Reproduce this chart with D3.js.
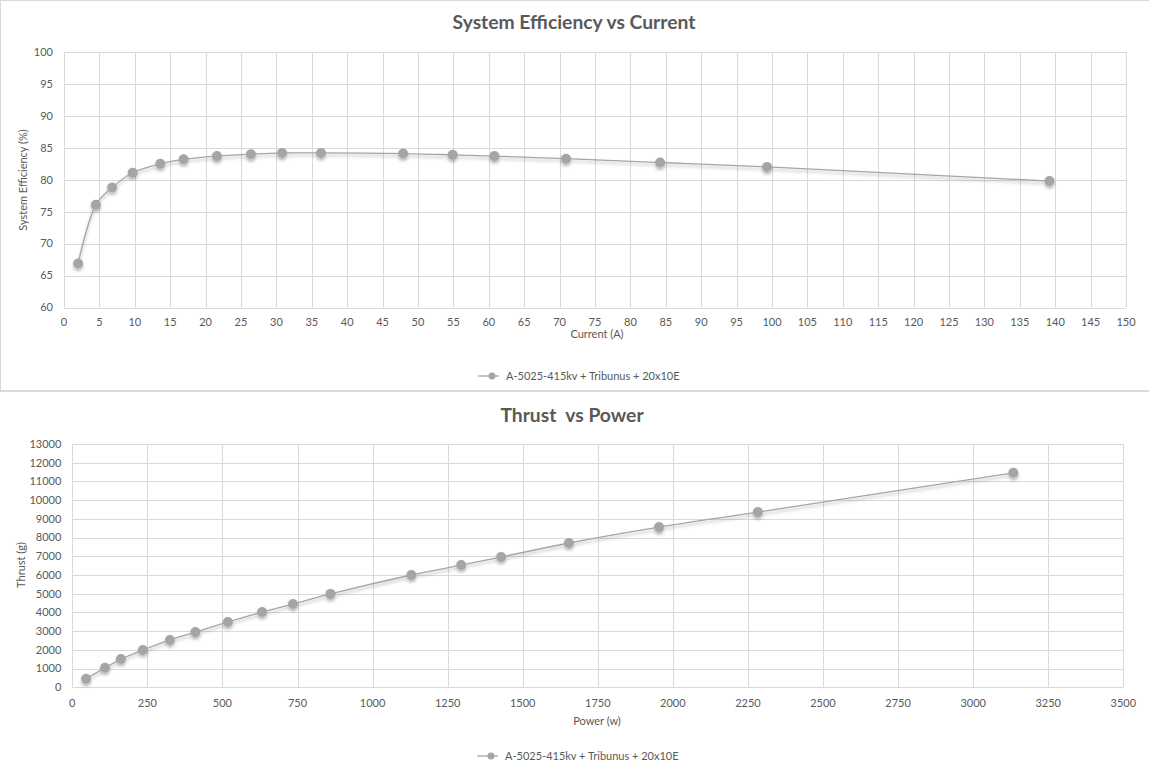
<!DOCTYPE html>
<html><head><meta charset="utf-8">
<script src="https://cdn.jsdelivr.net/npm/d3@7"></script>
<style>
body{margin:0;background:#fff;}
svg{display:block;font-family:Lato,"Open Sans",sans-serif;}
</style></head>
<body><svg id="c" width="1149" height="774"></svg>
<script>
// ---- Data: System Efficiency vs Current ----
const currentA = [2.0, 4.5, 6.8, 9.7, 13.6, 16.9, 21.6, 26.4, 30.8, 36.3, 47.9, 54.9, 60.8, 70.9, 84.2, 99.3, 139.2];
const efficiencyPct = [66.9, 76.1, 78.8, 81.1, 82.5, 83.2, 83.7, 84.0, 84.2, 84.2, 84.1, 83.9, 83.7, 83.3, 82.7, 82.0, 79.8];
const effXTicks = d3.range(0, 151, 5);
const effYTicks = d3.range(60, 101, 5);

// ---- Data: Thrust vs Power ----
const powerW = [46, 109, 162, 235, 325, 410, 518, 632, 735, 860, 1129, 1295, 1428, 1654, 1954, 2283, 3134];
const thrustG = [460, 1040, 1510, 1990, 2530, 2950, 3490, 4020, 4450, 4990, 6000, 6530, 6960, 7710, 8560, 9360, 11460];
const thrXTicks = d3.range(0, 3501, 250);
const thrYTicks = d3.range(0, 13001, 1000);

const seriesName = "A-5025-415kv + Tribunus + 20x10E";

const svg = d3.select("#c");
const grid = "#d9d9d9", txt = "#595959", lineC = "#a5a5a5";

const defs = svg.append("defs");
const f = defs.append("filter").attr("id","sh").attr("x","-20%").attr("y","-50%").attr("width","140%").attr("height","200%");
f.append("feDropShadow").attr("dx",0).attr("dy",2.5).attr("stdDeviation",1.8).attr("flood-color","#000").attr("flood-opacity",0.28);

// chart frames
svg.append("rect").attr("x",0.5).attr("y",0.5).attr("width",1160).attr("height",390).attr("fill","none").attr("stroke",grid);
svg.append("line").attr("x1",0).attr("x2",1149).attr("y1",391.5).attr("y2",391.5).attr("stroke",grid);

function chart(o){
  const x = d3.scaleLinear().domain(o.xd).range([o.l, o.r]);
  const y = d3.scaleLinear().domain(o.yd).range([o.b, o.t]);
  const g = svg.append("g");
  // gridlines
  g.append("g").selectAll("line").data(o.yt).join("line")
    .attr("x1",o.l).attr("x2",o.r).attr("y1",d=>Math.round(y(d))+0.5).attr("y2",d=>Math.round(y(d))+0.5)
    .attr("stroke",grid);
  g.append("g").selectAll("line").data(o.xt).join("line")
    .attr("y1",o.t).attr("y2",o.b).attr("x1",d=>Math.round(x(d))+0.5).attr("x2",d=>Math.round(x(d))+0.5)
    .attr("stroke",grid);
  // tick labels
  g.append("g").selectAll("text").data(o.yt).join("text")
    .attr("x",o.l - o.ylOff).attr("y",d=>y(d)).attr("dy","0.35em").attr("text-anchor","end")
    .attr("font-size",11).attr("fill",txt).text(d=>d);
  g.append("g").selectAll("text").data(o.xt).join("text")
    .attr("x",d=>x(d)).attr("y",o.b + o.xlOff).attr("dy","0.35em").attr("text-anchor","middle")
    .attr("font-size",11).attr("fill",txt).text(d=>d);
  // titles
  g.append("text").attr("x",o.tx).attr("y",o.ty).attr("text-anchor","middle").attr("font-size",19.3)
    .attr("font-weight","bold").attr("fill",txt).attr("xml:space","preserve").text(o.title);
  g.append("text").attr("x",o.xtx).attr("y",o.xty).attr("text-anchor","middle").attr("font-size",11)
    .attr("fill",txt).text(o.xTitle);
  g.append("text").attr("transform",`translate(${o.ytx},${o.yty}) rotate(-90)`).attr("text-anchor","middle")
    .attr("font-size",11).attr("fill",txt).text(o.yTitle);
  // series
  const pts = o.xs.map((v,i)=>[v,o.ys[i]]);
  const s = g.append("g").attr("filter","url(#sh)");
  s.append("path").datum(pts).attr("fill","none").attr("stroke",lineC).attr("stroke-width",1.3)
    .attr("d",d3.line().x(d=>x(d[0])).y(d=>y(d[1])).curve(o.curve));
  s.selectAll("circle").data(pts).join("circle").attr("cx",d=>x(d[0])).attr("cy",d=>y(d[1]))
    .attr("r",5).attr("fill",lineC);
  // legend
  const lg = g.append("g").attr("transform",`translate(${o.lgx},${o.lgy})`);
  lg.append("line").attr("x1",0).attr("x2",21).attr("y1",0).attr("y2",0).attr("stroke",lineC).attr("stroke-width",1.3);
  lg.append("circle").attr("cx",14).attr("cy",0).attr("r",3.5).attr("fill",lineC);
  lg.append("text").attr("x",28).attr("y",0).attr("dy","0.35em").attr("font-size",11).attr("fill",txt).text(seriesName);
}

chart({xd:[0,150], yd:[60,100], l:64, r:1126, t:52, b:307.5, xt:effXTicks, yt:effYTicks,
  xs:currentA, ys:efficiencyPct, curve:d3.curveCatmullRom.alpha(0.5),
  ylOff:11, xlOff:15, title:"System Efficiency vs Current", tx:574, ty:29,
  xTitle:"Current (A)", xtx:597, xty:338, yTitle:"System Efficiency (%)", ytx:27, yty:180,
  lgx:478, lgy:376});

chart({xd:[0,3500], yd:[0,13000], l:72.3, r:1123.3, t:444, b:687.3, xt:thrXTicks, yt:thrYTicks,
  xs:powerW, ys:thrustG, curve:d3.curveCatmullRom.alpha(0.5),
  ylOff:11, xlOff:16, title:"Thrust  vs Power", tx:572, ty:422,
  xTitle:"Power (w)", xtx:597, xty:725, yTitle:"Thrust (g)", ytx:25, yty:565,
  lgx:477, lgy:756});
</script></body></html>
